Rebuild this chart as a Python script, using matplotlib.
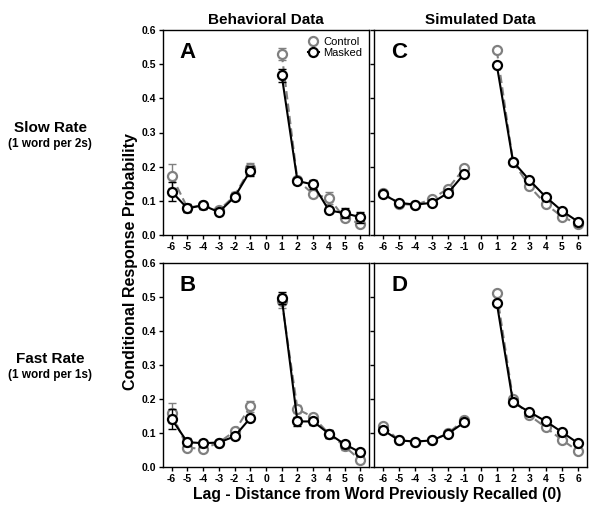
import matplotlib
matplotlib.use("Agg")
import matplotlib.pyplot as plt
import numpy as np

plt.rcParams['font.family'] = ['Liberation Sans', 'DejaVu Sans']

lags = [-6, -5, -4, -3, -2, -1, 1, 2, 3, 4, 5, 6]

# Panel A: behavioral, slow rate
A_control = [0.173, 0.080, 0.087, 0.072, 0.115, 0.195, 0.530, 0.160, 0.120, 0.108, 0.050, 0.033]
A_control_err = [0.034, 0.012, 0.010, 0.010, 0.010, 0.015, 0.018, 0.010, 0.010, 0.018, 0.010, 0.008]
A_masked = [0.127, 0.078, 0.087, 0.067, 0.111, 0.188, 0.467, 0.158, 0.148, 0.072, 0.064, 0.052]
A_masked_err = [0.028, 0.012, 0.010, 0.008, 0.008, 0.015, 0.020, 0.008, 0.014, 0.008, 0.014, 0.016]

# Panel B: behavioral, fast rate
B_control = [0.158, 0.057, 0.053, 0.072, 0.105, 0.178, 0.489, 0.170, 0.147, 0.098, 0.061, 0.020]
B_control_err = [0.030, 0.008, 0.008, 0.008, 0.008, 0.015, 0.020, 0.012, 0.010, 0.012, 0.010, 0.008]
B_masked = [0.141, 0.073, 0.070, 0.072, 0.090, 0.144, 0.498, 0.134, 0.134, 0.098, 0.067, 0.043]
B_masked_err = [0.030, 0.012, 0.010, 0.006, 0.008, 0.010, 0.018, 0.012, 0.010, 0.012, 0.010, 0.010]

# Panel C: simulated, slow rate
C_control = [0.123, 0.091, 0.088, 0.105, 0.136, 0.195, 0.541, 0.215, 0.143, 0.091, 0.054, 0.032]
C_masked = [0.119, 0.094, 0.089, 0.094, 0.123, 0.179, 0.498, 0.215, 0.161, 0.112, 0.071, 0.039]

# Panel D: simulated, fast rate
D_control = [0.121, 0.078, 0.075, 0.078, 0.099, 0.139, 0.512, 0.199, 0.152, 0.117, 0.080, 0.047]
D_masked = [0.109, 0.078, 0.075, 0.078, 0.098, 0.131, 0.483, 0.190, 0.162, 0.135, 0.103, 0.070]

xticks = list(range(-6, 7))
yticks = [0.0, 0.1, 0.2, 0.3, 0.4, 0.5, 0.6]

fig = plt.figure(figsize=(6.0, 5.12), dpi=100)

W, H = 600, 512
def rect(l, r, t, b):
    return [l / W, 1 - b / H, (r - l) / W, (b - t) / H]

axA = fig.add_axes(rect(163, 369, 30, 235))
axC = fig.add_axes(rect(374, 587, 30, 235))
axB = fig.add_axes(rect(163, 369, 263, 467))
axD = fig.add_axes(rect(374, 587, 263, 467))

gray = '#808080'

def draw(ax, ctrl, mask, cerr=None, merr=None, letter='', ylabels=True, legend=False):
    x = np.array(lags)
    c = np.array(ctrl)
    m = np.array(mask)
    neg = x < 0
    pos = x > 0
    for sel in (neg, pos):
        if cerr is not None:
            ax.errorbar(x[sel], c[sel], yerr=np.array(cerr)[sel], fmt='none', ecolor=gray,
                        elinewidth=1.0, capsize=3, capthick=1.0, zorder=2)
        ax.plot(x[sel], c[sel], color=gray, linestyle=(0, (4, 2)), linewidth=1.5,
                marker='o', markersize=6.5, markerfacecolor='white', markeredgecolor=gray,
                markeredgewidth=1.6, zorder=3, label='Control' if sel is neg else None)
    for sel in (neg, pos):
        if merr is not None:
            ax.errorbar(x[sel], m[sel], yerr=np.array(merr)[sel], fmt='none', ecolor='black',
                        elinewidth=1.0, capsize=3, capthick=1.0, zorder=4)
        ax.plot(x[sel], m[sel], color='black', linestyle='-', linewidth=1.5,
                marker='o', markersize=6.5, markerfacecolor='white', markeredgecolor='black',
                markeredgewidth=1.6, zorder=5, label='Masked' if sel is neg else None)
    ax.set_xlim(-6.55, 6.55)
    ax.set_ylim(0, 0.6)
    ax.set_xticks(xticks)
    ax.set_xticklabels([str(t) for t in xticks], fontsize=7.5, fontweight='bold')
    ax.set_yticks(yticks)
    if ylabels:
        ax.set_yticklabels(['%.1f' % t for t in yticks], fontsize=7.5, fontweight='bold')
    else:
        ax.set_yticklabels([])
    ax.tick_params(direction='out', length=3, width=1, pad=2)
    for s in ax.spines.values():
        s.set_linewidth(1.0)
    ax.text(0.08, 0.94, letter, transform=ax.transAxes, fontsize=16, fontweight='bold',
            va='top', ha='left')
    if legend:
        ax.legend(loc='upper right', frameon=False, fontsize=8, handlelength=1.0,
                  handletextpad=0.4, borderaxespad=0.2, labelspacing=0.1)

draw(axA, A_control, A_masked, A_control_err, A_masked_err, 'A', True, True)
draw(axB, B_control, B_masked, B_control_err, B_masked_err, 'B', True)
draw(axC, C_control, C_masked, None, None, 'C', False)
draw(axD, D_control, D_masked, None, None, 'D', False)

axA.set_title('Behavioral Data', fontsize=11, fontweight='bold', pad=4)
axC.set_title('Simulated Data', fontsize=11, fontweight='bold', pad=4)

fig.text(50 / W, 1 - 128 / H, 'Slow Rate', fontsize=11, fontweight='bold', ha='center', va='center')
fig.text(50 / W, 1 - 144 / H, '(1 word per 2s)', fontsize=8.5, fontweight='bold', ha='center', va='center')
fig.text(50 / W, 1 - 359 / H, 'Fast Rate', fontsize=11, fontweight='bold', ha='center', va='center')
fig.text(50 / W, 1 - 375 / H, '(1 word per 1s)', fontsize=8.5, fontweight='bold', ha='center', va='center')

fig.text(130 / W, 1 - 262 / H, 'Conditional Response Probability', fontsize=11.5, fontweight='bold',
         rotation=90, ha='center', va='center')
fig.text(377 / W, 1 - 495 / H, 'Lag - Distance from Word Previously Recalled (0)', fontsize=11.3,
         fontweight='bold', ha='center', va='center')

fig.savefig('out.png', dpi=100)
